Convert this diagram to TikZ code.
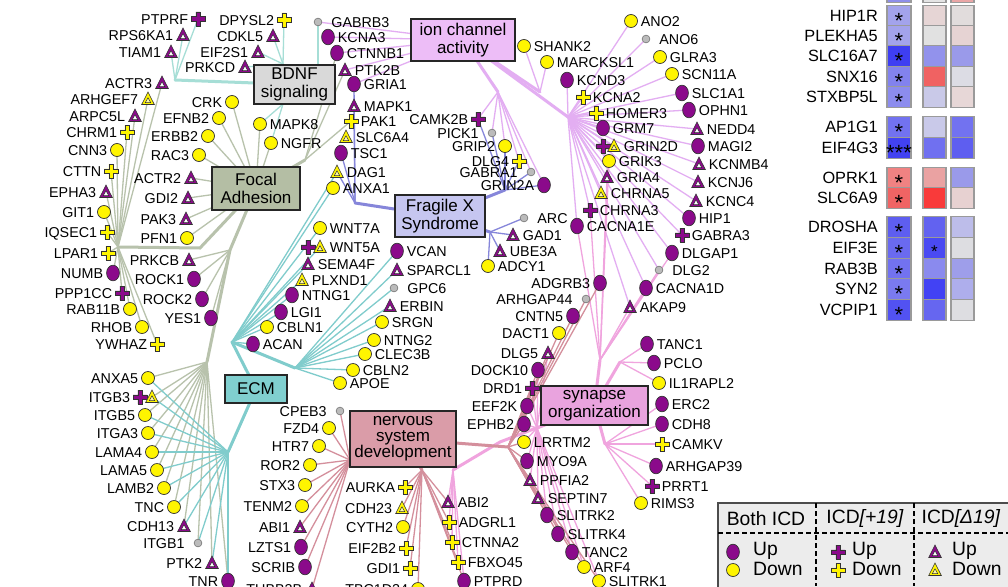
\documentclass[tikz,border=0pt]{standalone}
\usepackage{fontspec}
\setmainfont{Liberation Sans}
\usetikzlibrary{calc}
\pgfdeclarelayer{bg}
\pgfsetlayers{bg,main}
\definecolor{pur}{HTML}{8B0A8B}
\definecolor{yel}{HTML}{FFF500}
\definecolor{grc}{HTML}{BBBBBB}
\definecolor{mkline}{HTML}{333333}
\definecolor{cFA}{HTML}{B8C2AC}
\definecolor{cBD}{HTML}{A6DED6}
\definecolor{cIC}{HTML}{E3AEF2}
\definecolor{cFX}{HTML}{8686DA}
\definecolor{cEC}{HTML}{80CCCC}
\definecolor{cNS}{HTML}{D48F9C}
\definecolor{cSY}{HTML}{F0A4DE}
\definecolor{fBD}{HTML}{D9D9D9}
\definecolor{fIC}{HTML}{EDBDF7}
\definecolor{fFA}{HTML}{B4BEA4}
\definecolor{fFX}{HTML}{C6C6F0}
\definecolor{fEC}{HTML}{80CFCF}
\definecolor{fNS}{HTML}{DA9CA8}
\definecolor{fSY}{HTML}{E9A3DE}
\definecolor{legbg}{HTML}{ECECEC}
\definecolor{hmb}{HTML}{9A9A9A}
\newcommand\plusmk[1]{\filldraw[fill=#1,draw=mkline,line width=0.6pt] (-7,-2.2) -- (-2.2,-2.2) -- (-2.2,-7) -- (2.2,-7) -- (2.2,-2.2) -- (7,-2.2) -- (7,2.2) -- (2.2,2.2) -- (2.2,7) -- (-2.2,7) -- (-2.2,2.2) -- (-7,2.2) -- cycle;}
\newcommand\trimk[2]{\filldraw[fill=#1,draw=mkline,line width=0.6pt] (0,-7) -- (6.3,5.5) -- (-6.3,5.5) -- cycle; \filldraw[fill=#2,draw=mkline,line width=0.5pt] (0,-1.2) -- (2.7,3.6) -- (-2.7,3.6) -- cycle;}
\newcommand\mkPC{\filldraw[fill=pur,draw=mkline,line width=0.7pt] (0,0) ellipse [x radius=6.4pt, y radius=7.8pt];}
\newcommand\mkYC{\filldraw[fill=yel,draw=mkline,line width=0.7pt] (0,0) circle [radius=6.5pt];}
\newcommand\mkG{\filldraw[fill=grc,draw=black!55,line width=0.6pt] (0,0) circle [radius=3.9pt];}
\newcommand\mkPP{\plusmk{pur}}
\newcommand\mkYP{\plusmk{yel}}
\newcommand\mkPT{\trimk{pur}{white}}
\newcommand\mkYT{\trimk{yel}{yel!35}}
\newcommand\G[6]{\node[mkbox,label={[lab,lab#4]#5:#6}] (#1) at (#2,#3) {};\begin{scope}[shift={(#2,#3)}]\csname mk#4\endcsname\end{scope}}
\newcommand\M[4]{\node[mkbox] (#1) at (#2,#3) {};\begin{scope}[shift={(#2,#3)}]\csname mk#4\endcsname\end{scope}}
\begin{document}
\begin{tikzpicture}[x=1pt,y=-1pt,
  mkbox/.style={rectangle,minimum size=14,inner sep=0,draw=none},
  lab/.style={font=\fontsize{14.3}{16}\selectfont,inner sep=1pt,text height=10.2pt,text depth=0pt},
  labPC/.style={label distance=1.5pt},labYC/.style={label distance=1.5pt},
  labPP/.style={label distance=1.5pt},labYP/.style={label distance=1.5pt},
  labPT/.style={label distance=1.5pt},labYT/.style={label distance=1.5pt},
  labG/.style={label distance=5pt},
  hub/.style={draw=black!85,line width=2pt,inner sep=1pt,align=center,font=\fontsize{17}{18.5}\selectfont},
  e/.style={line width=1.3pt},
  tr/.style={line width=3pt,line cap=round},
  hml/.style={font=\fontsize{16.3}{18}\selectfont,anchor=east,inner sep=1pt,text height=11.7pt,text depth=0pt},
  legt/.style={font=\fontsize{19.3}{21}\selectfont,inner sep=1pt},
  legdash/.style={black,line width=1.4pt,dash pattern=on 5pt off 3pt}]
\useasboundingbox (0,0) rectangle (1008,586);
% ---------- hubs ----------
\node[hub,fill=fBD,minimum width=81,minimum height=39] (BDNF) at (294.5,84.5) {BDNF\\signaling};
\node[hub,fill=fIC,minimum width=104,minimum height=42] (ION) at (463,40) {ion channel\\activity};
\node[hub,fill=fFA,minimum width=88,minimum height=43] (FA) at (256,188.5) {Focal\\Adhesion};
\node[hub,fill=fFX,minimum width=90,minimum height=42] (FX) at (440,216) {Fragile X\\Syndrome};
\node[hub,fill=fEC,minimum width=62,minimum height=28] (ECM) at (256,389) {ECM};
\node[hub,fill=fNS,minimum width=106,minimum height=56,font=\fontsize{17}{15.5}\selectfont] (NSD) at (403,439) {nervous\\system\\development};
\node[hub,fill=fSY,minimum width=107,minimum height=39] (SYN) at (594.5,405.5) {synapse\\organization};
% ---------- genes: left ----------
\G{PTPRF}{198}{19}{PP}{left}{PTPRF}
\G{RPS6KA1}{183}{35}{PT}{left}{RPS6KA1}
\G{TIAM1}{171}{52}{PT}{left}{TIAM1}
\G{DPYSL2}{284}{20}{YP}{left}{DPYSL2}
\G{CDKL5}{273}{36}{PT}{left}{CDKL5}
\G{EIF2S1}{258}{52}{PT}{left}{EIF2S1}
\G{PRKCD}{245}{67}{PT}{left}{PRKCD}
\G{ACTR3}{162}{83}{PT}{left}{ACTR3}
\G{ARHGEF7}{148}{99}{YT}{left}{ARHGEF7}
\G{ARPC5L}{135}{116}{PT}{left}{ARPC5L}
\G{CHRM1}{127}{132}{YP}{left}{CHRM1}
\G{CNN3}{117}{150}{YC}{left}{CNN3}
\G{CTTN}{111}{171}{YP}{left}{CTTN}
\G{EPHA3}{106}{192}{PT}{left}{EPHA3}
\G{GIT1}{104}{212}{YC}{left}{GIT1}
\G{IQSEC1}{107}{232}{YP}{left}{IQSEC1}
\G{LPAR1}{108}{253}{YP}{left}{LPAR1}
\G{NUMB}{113}{273}{PC}{left}{NUMB}
\G{PPP1CC}{122}{293}{PP}{left}{PPP1CC}
\G{RAB11B}{130}{309}{YC}{left}{RAB11B}
\G{RHOB}{142}{327}{YC}{left}{RHOB}
\G{YWHAZ}{157}{344}{YP}{left}{YWHAZ}
\G{CRK}{232}{102}{YC}{left}{CRK}
\G{EFNB2}{219}{118}{YC}{left}{EFNB2}
\G{ERBB2}{208}{136}{YC}{left}{ERBB2}
\G{RAC3}{199}{155}{YC}{left}{RAC3}
\G{ACTR2}{191}{178}{PT}{left}{ACTR2}
\G{GDI2}{188}{198}{PT}{left}{GDI2}
\G{PAK3}{186}{219}{PT}{left}{PAK3}
\G{PFN1}{187}{238}{YC}{left}{PFN1}
\G{PRKCB}{189}{260}{PT}{left}{PRKCB}
\G{ROCK1}{194}{279}{PC}{left}{ROCK1}
\G{ROCK2}{202}{299}{PC}{left}{ROCK2}
\G{YES1}{211}{318}{PC}{left}{YES1}
\G{ANXA5}{148}{378}{YC}{left}{ANXA5}
\G{ITGB3}{140}{397}{PP}{left}{ITGB3}
\M{ITGB3b}{152}{397}{YT}
\G{ITGB5}{145}{415}{YC}{left}{ITGB5}
\G{ITGA3}{148}{433}{YC}{left}{ITGA3}
\G{LAMA4}{152}{452}{YC}{left}{LAMA4}
\G{LAMA5}{157}{470}{YC}{left}{LAMA5}
\G{LAMB2}{164}{488}{YC}{left}{LAMB2}
\G{TNC}{174}{507}{YC}{left}{TNC}
\G{CDH13}{184}{526}{PT}{left}{CDH13}
\G{ITGB1}{198}{543}{G}{left}{ITGB1}
\G{PTK2}{212}{563}{PT}{left}{PTK2}
\G{TNR}{228}{581}{PC}{left}{TNR}
% ---------- genes: middle top ----------
\G{GABRB3}{318}{22}{G}{right}{GABRB3}
\G{KCNA3}{328}{37}{PC}{right}{KCNA3}
\G{CTNNB1}{337}{53}{PC}{right}{CTNNB1}
\G{PTK2B}{345}{70}{PT}{right}{PTK2B}
\G{GRIA1}{354}{84}{PC}{right}{GRIA1}
\G{MAPK1}{354}{106}{PT}{right}{MAPK1}
\G{PAK1}{351}{121}{YP}{right}{PAK1}
\G{SLC6A4}{346}{137}{YT}{right}{SLC6A4}
\G{TSC1}{341}{153}{PC}{right}{TSC1}
\G{DAG1}{337}{172}{YT}{right}{DAG1}
\G{ANXA1}{333}{188}{YC}{right}{ANXA1}
\G{MAPK8}{260}{124}{YC}{right}{MAPK8}
\G{NGFR}{271}{143}{YC}{right}{NGFR}
% ---------- Fragile X ----------
\G{CAMK2B}{478}{119}{PP}{left}{CAMK2B}
\G{PICK1}{492}{133}{G}{left}{PICK1}
\G{GRIP2}{505}{146}{YC}{left}{GRIP2}
\G{DLG4}{519}{161}{YP}{left}{DLG4}
\G{GABRA1}{531}{172}{G}{left}{GABRA1}
\G{GRIN2A}{544}{185}{PC}{left}{GRIN2A}
\G{ARC}{524}{218}{G}{right}{ARC}
\G{GAD1}{513}{235}{PT}{right}{GAD1}
\G{UBE3A}{500}{251}{PT}{right}{UBE3A}
\G{ADCY1}{488}{266}{YC}{right}{ADCY1}
% ---------- ion channel ----------
\G{SHANK2}{524}{46}{YC}{right}{SHANK2}
\G{MARCKSL1}{547}{62}{YC}{right}{MARCKSL1}
\G{KCND3}{567}{80}{PC}{right}{KCND3}
\G{KCNA2}{583}{97}{YP}{right}{KCNA2}
\G{HOMER3}{596}{113}{YP}{right}{HOMER3}
\G{GRM7}{603}{128}{PC}{right}{GRM7}
\M{GRIN2D}{603}{146}{PP}
\G{GRIN2Db}{614}{146}{YT}{right}{GRIN2D}
\G{GRIK3}{609}{161}{YC}{right}{GRIK3}
\G{GRIA4}{607}{177}{PT}{right}{GRIA4}
\G{CHRNA5}{601}{193}{YT}{right}{CHRNA5}
\G{CHRNA3}{590}{210}{PP}{right}{CHRNA3}
\G{CACNA1E}{577}{226}{PC}{right}{CACNA1E}
\G{ANO2}{631}{21}{YC}{right}{ANO2}
\G{ANO6}{646}{39}{G}{right}{ANO6}
\G{GLRA3}{660}{57}{YC}{right}{GLRA3}
\G{SCN11A}{672}{74}{YC}{right}{SCN11A}
\G{SLC1A1}{682}{93}{PC}{right}{SLC1A1}
\G{OPHN1}{689}{110}{PC}{right}{OPHN1}
\G{NEDD4}{697}{129}{PT}{right}{NEDD4}
\G{MAGI2}{698}{146}{PC}{right}{MAGI2}
\G{KCNMB4}{699}{164}{PT}{right}{KCNMB4}
\G{KCNJ6}{698}{182}{PT}{right}{KCNJ6}
\G{KCNC4}{696}{201}{PT}{right}{KCNC4}
\G{HIP1}{689}{218}{PC}{right}{HIP1}
\G{GABRA3}{682}{235}{PP}{right}{GABRA3}
\G{DLGAP1}{672}{253}{PC}{right}{DLGAP1}
\G{DLG2}{659}{270}{G}{right}{DLG2}
\G{CACNA1D}{646}{288}{PC}{right}{CACNA1D}
\G{AKAP9}{630}{307}{PT}{right}{AKAP9}
% ---------- synapse ----------
\G{ADGRB3}{600}{283}{PC}{left}{ADGRB3}
\G{ARHGAP44}{586}{299}{G}{left}{ARHGAP44}
\G{CNTN5}{573}{316}{PC}{left}{CNTN5}
\G{DACT1}{559}{333}{YC}{left}{DACT1}
\G{DLG5}{548}{353}{PT}{left}{DLG5}
\G{DOCK10}{538}{370}{PC}{left}{DOCK10}
\G{DRD1}{532}{388}{PP}{left}{DRD1}
\G{EEF2K}{527}{406}{PC}{left}{EEF2K}
\G{EPHB2}{524}{424}{PC}{left}{EPHB2}
\G{LRRTM2}{524}{442}{YC}{right}{LRRTM2}
\G{MYO9A}{527}{461}{PC}{right}{MYO9A}
\G{PPFIA2}{530}{480}{PT}{right}{PPFIA2}
\G{SEPTIN7}{538}{498}{PT}{right}{SEPTIN7}
\G{SLITRK2}{547}{515}{PC}{right}{SLITRK2}
\G{SLITRK4}{558}{534}{PC}{right}{SLITRK4}
\G{TANC2}{572}{552}{PC}{right}{TANC2}
\G{ARF4}{584}{567}{YC}{right}{ARF4}
\G{SLITRK1}{599}{581}{YC}{right}{SLITRK1}
\G{TANC1}{647}{344}{PC}{right}{TANC1}
\G{PCLO}{654}{363}{PC}{right}{PCLO}
\G{IL1RAPL2}{659}{383}{YC}{right}{IL1RAPL2}
\G{ERC2}{662}{404}{PC}{right}{ERC2}
\G{CDH8}{662}{424}{PC}{right}{CDH8}
\G{CAMKV}{662}{444}{YP}{right}{CAMKV}
\G{ARHGAP39}{656}{466}{PC}{right}{ARHGAP39}
\G{PRRT1}{652}{486}{PP}{right}{PRRT1}
\G{RIMS3}{641}{503}{YC}{right}{RIMS3}
% ---------- ECM ----------
\G{WNT7A}{320}{228}{YC}{right}{WNT7A}
\M{WNT5A}{308}{247}{PP}
\G{WNT5Ab}{320}{247}{YT}{right}{WNT5A}
\G{SEMA4F}{308}{264}{PT}{right}{SEMA4F}
\G{PLXND1}{302}{280}{YT}{right}{PLXND1}
\G{NTNG1}{292}{295}{PC}{right}{NTNG1}
\G{LGI1}{281}{312}{PC}{right}{LGI1}
\G{CBLN1}{267}{327}{YC}{right}{CBLN1}
\G{ACAN}{253}{344}{PC}{right}{ACAN}
\G{VCAN}{397}{251}{PC}{right}{VCAN}
\G{SPARCL1}{397}{270}{PT}{right}{SPARCL1}
\G{GPC6}{394}{288}{G}{right}{GPC6}
\G{ERBIN}{390}{306}{PT}{right}{ERBIN}
\G{SRGN}{382}{322}{YC}{right}{SRGN}
\G{NTNG2}{374}{340}{YC}{right}{NTNG2}
\G{CLEC3B}{365}{354}{YC}{right}{CLEC3B}
\G{CBLN2}{353}{370}{YC}{right}{CBLN2}
\G{APOE}{340}{383}{YC}{right}{APOE}
% ---------- nervous system ----------
\G{CPEB3}{340}{411}{G}{left}{CPEB3}
\G{FZD4}{329}{428}{YC}{left}{FZD4}
\G{HTR7}{319}{446}{YC}{left}{HTR7}
\G{ROR2}{310}{465}{YC}{left}{ROR2}
\G{STX3}{305}{485}{YC}{left}{STX3}
\G{TENM2}{302}{506}{YC}{left}{TENM2}
\G{ABI1}{300}{527}{PT}{left}{ABI1}
\G{LZTS1}{301}{547}{PC}{left}{LZTS1}
\G{SCRIB}{305}{567}{PC}{left}{SCRIB}
\G{TUBB2B}{312}{589}{PT}{left}{TUBB2B}
\G{AURKA}{405}{487}{YP}{left}{AURKA}
\G{CDH23}{402}{508}{YT}{left}{CDH23}
\G{CYTH2}{403}{527}{YC}{left}{CYTH2}
\G{EIF2B2}{406}{548}{YP}{left}{EIF2B2}
\G{GDI1}{410}{568}{YP}{left}{GDI1}
\G{TBC1D24}{418}{589}{YC}{left}{TBC1D24}
\G{ABI2}{448}{502}{PT}{right}{ABI2}
\G{ADGRL1}{449}{522}{YP}{right}{ADGRL1}
\G{CTNNA2}{452}{542}{YP}{right}{CTNNA2}
\G{FBXO45}{458}{562}{YP}{right}{FBXO45}
\G{PTPRD}{464}{581}{PC}{right}{PTPRD}
% ---------- branch points ----------
\coordinate (bdA) at (175,80); \coordinate (bdB) at (283,64);
\coordinate (bdC) at (318,64); \coordinate (bdD) at (283,104);
\coordinate (faA) at (118,247); \coordinate (faB) at (200,248);
\coordinate (faC) at (230,250); \coordinate (faD) at (207,362);
\coordinate (faE) at (305,160);
\coordinate (icA) at (568,117); \coordinate (icB) at (540,92);
\coordinate (icC) at (498,92);
\coordinate (fxA) at (355,203); \coordinate (fxB) at (505,190);
\coordinate (fxC) at (490,232);
\coordinate (ecA) at (232,342); \coordinate (ecB) at (295,368);
\coordinate (ecC) at (228,452);
\coordinate (nsA) at (350,460); \coordinate (nsB) at (422,470);
\coordinate (nsC) at (508,447);
\coordinate (syA) at (600,360); \coordinate (syB) at (620,362);
\coordinate (syC) at (605,444); \coordinate (syD) at (537,428);
\coordinate (syE) at (453,470); \coordinate (syF) at (500,442);
% ---------- edges ----------
\begin{pgfonlayer}{bg}
\fill[white] (0,0) rectangle (1008,586);
% BDNF
\begin{scope}[cBD]
\draw[tr] (bdA) -- (BDNF.center);
\foreach \n in {PTPRF,RPS6KA1,TIAM1} \draw[e] (bdA) -- (\n.center);
\foreach \n in {DPYSL2,CDKL5,EIF2S1,PRKCD} \draw[e] (bdB) -- (\n.center);
\draw[e] (bdC) -- (GABRB3.center);
\foreach \n in {MAPK8,NGFR} \draw[e] (bdD) -- (\n.center);
\end{scope}
% Focal adhesion
\begin{scope}[cFA]
\draw[tr] (faA) -- (faB) -- (FA.center);
\foreach \n in {ACTR3,ARHGEF7,ARPC5L,CHRM1,CNN3,CTTN,EPHA3,GIT1,IQSEC1,LPAR1,NUMB,PPP1CC,RAB11B,RHOB,YWHAZ} \draw[e] (faA) -- (\n.center);
\foreach \n in {CRK,EFNB2,ERBB2,RAC3,ACTR2,GDI2,PAK3,PFN1,MAPK8,NGFR} \draw[e] (FA.center) -- (\n.center);
\draw[tr] (faC) -- (FA.center);
\foreach \n in {PRKCB,ROCK1,ROCK2,YES1} \draw[e] (faC) -- (\n.center);
\draw[tr] (faD) -- (faC);
\foreach \n in {ANXA5,ITGB3b,ITGB5,ITGA3,LAMA4,LAMA5,LAMB2,TNC,CDH13,ITGB1,PTK2,TNR} \draw[e] (faD) -- (\n.center);
\draw[tr] (faE) -- (FA.center);
\foreach \n in {PAK1,CTNNB1,PTK2B} \draw[e] (faE) -- (\n.center);
\end{scope}
% ECM
\begin{scope}[cEC]
\draw[tr] (ecA) -- (ECM.center);
\foreach \n in {WNT7A,WNT5Ab,SEMA4F,PLXND1,NTNG1,LGI1,CBLN1,ACAN,ANXA1,DAG1} \draw[e] (ecA) -- (\n.center);
\draw[tr] (ecB) -- (ecA);
\foreach \n in {VCAN,SPARCL1,GPC6,ERBIN,SRGN,NTNG2,CLEC3B,CBLN2,APOE} \draw[e] (ecB) -- (\n.center);
\draw[tr] (ecC) -- (ECM.center);
\foreach \n in {ANXA5,ITGB3b,ITGB5,ITGA3,LAMA4,LAMA5,LAMB2,TNC,CDH13,ITGB1,PTK2,TNR} \draw[e] (ecC) -- (\n.center);
\end{scope}
% ion channel
\begin{scope}[cIC]
\draw[tr] (icA) -- (ION.center);
\foreach \n in {ANO2,ANO6,GLRA3,SCN11A,SLC1A1,OPHN1,NEDD4,MAGI2,KCNMB4,KCNJ6,KCNC4,HIP1,GABRA3,DLGAP1,DLG2,CACNA1D,AKAP9,KCND3,KCNA2,HOMER3,GRM7,GRIN2Db,GRIK3,GRIA4,CHRNA5,CHRNA3,CACNA1E} \draw[e] (icA) -- (\n.center);
\draw[tr] (icB) -- (ION.center);
\foreach \n in {SHANK2,MARCKSL1} \draw[e] (icB) -- (\n.center);
\foreach \n in {GABRB3,KCNA3,CTNNB1,PTK2B,GRIA1} \draw[e] (ION.center) -- (\n.center);
\draw[tr] (icC) -- (ION.center);
\foreach \n in {CAMK2B,PICK1,GRIP2,DLG4,GABRA1,GRIN2A} \draw[e] (icC) -- (\n.center);
\end{scope}
% Fragile X
\begin{scope}[cFX]
\draw[tr] (fxA) -- (FX.center);
\foreach \n in {TSC1,DAG1,GRIA1,MAPK1} \draw[e] (fxA) -- (\n.center);
\draw[tr] (fxB) -- (FX.center);
\foreach \n in {CAMK2B,PICK1,GRIP2,DLG4,GABRA1,GRIN2A} \draw[e] (fxB) -- (\n.center);
\draw[tr] (fxC) -- (FX.center);
\foreach \n in {ARC,GAD1,UBE3A,ADCY1} \draw[e] (fxC) -- (\n.center);
\end{scope}
% synapse
\begin{scope}[cSY]
\draw[tr] (syA) -- (SYN.center);
\foreach \n in {CACNA1E,CHRNA3,GRIA4,GRIK3,DLG2,DLGAP1,CACNA1D,AKAP9} \draw[e] (syA) -- (\n.center);
\draw[tr] (syB) -- (SYN.center);
\foreach \n in {TANC1,PCLO,IL1RAPL2} \draw[e] (syB) -- (\n.center);
\draw[tr] (syC) -- (SYN.center);
\foreach \n in {ERC2,CDH8,CAMKV,ARHGAP39,PRRT1,RIMS3} \draw[e] (syC) -- (\n.center);
\draw[tr] (syD) -- (SYN.center);
\foreach \n in {LRRTM2,MYO9A,PPFIA2,SEPTIN7,SLITRK2,SLITRK4,TANC2,ARF4,SLITRK1,EEF2K,EPHB2,DRD1,DOCK10,DLG5} \draw[e] (syD) -- (\n.center);
\draw[tr] (syE) -- (syF) -- (SYN.center);
\foreach \n in {ABI2,ADGRL1,CTNNA2,FBXO45,PTPRD} \draw[e] (syE) -- (\n.center);
\end{scope}
% nervous system
\begin{scope}[cNS]
\draw[tr] (nsA) -- (NSD.center);
\foreach \n in {CPEB3,FZD4,HTR7,ROR2,STX3,TENM2,ABI1,LZTS1,SCRIB,TUBB2B} \draw[e] (nsA) -- (\n.center);
\draw[tr] (nsB) -- (NSD.center);
\foreach \n in {AURKA,CDH23,CYTH2,EIF2B2,GDI1,TBC1D24,ABI2,ADGRL1,CTNNA2,FBXO45,PTPRD} \draw[e] (nsB) -- (\n.center);
\draw[tr] (nsC) -- (NSD.center);
\foreach \n in {ADGRB3,ARHGAP44,CNTN5,DACT1,DLG5,DOCK10,DRD1,EEF2K,EPHB2,LRRTM2,MYO9A,PPFIA2,SEPTIN7,SLITRK2,SLITRK4,TANC2,ARF4,SLITRK1} \draw[e] (nsC) -- (\n.center);
\end{scope}
\end{pgfonlayer}
% ---------- heatmap ----------
\foreach \hn/\hy/\ca/\cb/\cc/\st in {GRM8/-7.5/8E8EEA/E4E4E4/EAA6A6/{},HIP1R/16/A3A3EC/E6D5D5/E1DCDC/*,PLEKHA5/36/A3A3EC/E1E1E1/E6D3D3/*,SLC16A7/56/3E3EF2/9292EC/9A9AEA/*,SNX16/77/8282EE/F06262/DCDCE4/*,STXBP5L/97/8C8CEE/C9C9E8/E7D7D7/*,AP1G1/127/7272F0/C9C9E9/7272F0/*,EIF4G3/148/4242F2/7070F0/5E5EF0/***,OPRK1/178/F08282/EAA2A2/9A9AEA/*,SLC6A9/198/F06464/F93A3A/E7D1D1/*,DROSHA/227/5E5EF0/6262F0/BDBDEA/*,EIF3E/248/6A6AF0/4A4AF2/DDDDE1/*,RAB3B/269/7272F0/8A8AEE/9E9EEA/*,SYN2/289/7A7AF0/4242F4/AEAEEC/*,VCPIP1/310/5252F2/6666F0/DDDDE1/*}{
  \definecolor{hcA}{HTML}{\ca}\definecolor{hcB}{HTML}{\cb}\definecolor{hcC}{HTML}{\cc}
  \node[hml] (hl\hn) at (879,\hy) {\hn};
  \filldraw[fill=hcA,draw=hmb,line width=1.2pt] (887,\hy-10.2) rectangle (911,\hy+10.2);
  \filldraw[fill=hcB,draw=hmb,line width=1.2pt] (923,\hy-10.2) rectangle (946,\hy+10.2);
  \filldraw[fill=hcC,draw=hmb,line width=1.2pt] (951,\hy-10.2) rectangle (974,\hy+10.2);
  \node[font=\fontsize{22}{22}\selectfont,inner sep=0] (hs\hn) at (899,\hy+4.8) {\st};
}
\node[font=\fontsize{17}{17}\selectfont,inner sep=0] (hsEIF3Eb) at (934.5,251.5) {*};
% ---------- legend ----------
\node[draw=black!70,fill=legbg,line width=1.5pt,minimum width=300,minimum height=92,anchor=north west,inner sep=0] (LEG) at (717,502) {};
\draw[legdash] (816,503) -- (816,586);
\draw[legdash] (914,503) -- (914,586);
\draw[legdash] (718,533) -- (1008,533);
\node[legt] (LH1) at (766,519) {Both ICD};
\node[legt] (LH2) at (865,519) {ICD\textit{[+19]}};
\node[legt] (LH3) at (961,519) {ICD\textit{[Δ19]}};
\M{LPC}{733}{552}{PC}
\M{LYC}{733}{570}{YC}
\M{LPP}{838}{552}{PP}
\M{LYP}{838}{570}{YP}
\M{LPT}{935}{552}{PT}
\M{LYT}{935}{570}{YT}
\node[legt,anchor=west] (LT1) at (752,551) {Up};
\node[legt,anchor=west] (LT2) at (752,569) {Down};
\node[legt,anchor=west] (LT3) at (851,551) {Up};
\node[legt,anchor=west] (LT4) at (851,569) {Down};
\node[legt,anchor=west] (LT5) at (951,551) {Up};
\node[legt,anchor=west] (LT6) at (951,569) {Down};
\end{tikzpicture}
\end{document}
